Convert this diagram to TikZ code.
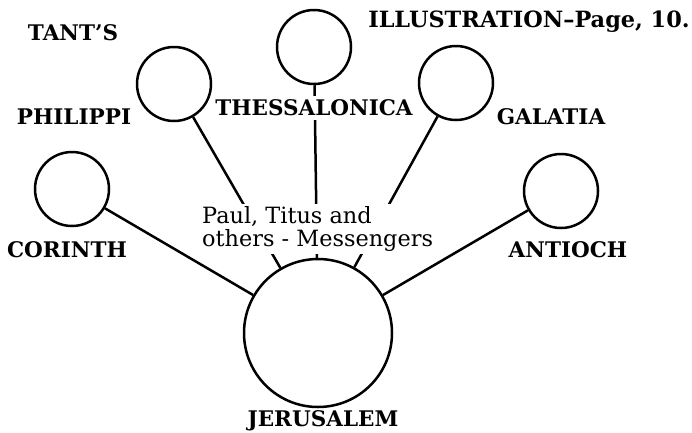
\documentclass[tikz,border=0pt]{standalone}
\usepackage{fontspec}
\setmainfont{DejaVu Serif}
\usetikzlibrary{positioning, backgrounds}

\begin{document}
\begin{tikzpicture}[
			x=1pt, y=-1pt,
			city/.style={circle, draw, line width=2.5pt, minimum size=74pt, inner sep=0pt},
			place/.style={font=\fontsize{21.5}{23}\selectfont\bfseries, inner sep=1pt},
			link/.style={line width=2.5pt},
			note/.style={font=\fontsize{22.4}{23.5}\selectfont, align=left, fill=white, inner sep=2pt}
		]
		\useasboundingbox (0,0) rectangle (692,432);
		% Churches round the centre
		\node[city] (corinth) at (72,189) {};
		\node[city] (philippi) at (174,84) {};
		\node[city] (thessalonica) at (314,47) {};
		\node[city] (galatia) at (456,83) {};
		\node[city] (antioch) at (561,191) {};
		\node[city, minimum size=148pt] (jerusalem) at (318,333) {};
		
		% Spokes to Jerusalem
		\draw[link] (corinth) -- (jerusalem);
		\draw[link] (philippi) -- (jerusalem);
		\draw[link] (thessalonica) -- (jerusalem);
		\draw[link] (galatia) -- (jerusalem);
		\draw[link] (antioch) -- (jerusalem);
		
		% Labels
		\node[place] (tants) at (73,33) {TANT'S};
		\node[place, font=\fontsize{22.4}{23}\selectfont\bfseries] (illustration) at (529,22) {ILLUSTRATION--Page, 10.};
		\node[place] (philippi-label) at (74,117) {PHILIPPI};
		\node[place, fill=white, inner sep=4pt] (thessalonica-label) at (314,108) {THESSALONICA};
		\node[place] (galatia-label) at (551,117) {GALATIA};
		\node[place] (corinth-label) at (67,250) {CORINTH};
		\node[place] (antioch-label) at (568,250) {ANTIOCH};
		\node[place] (jerusalem-label) at (323,421) {JERUSALEM};
		\node[note, anchor=north west] (messengers) at (200,204) {Paul, Titus and\\others - Messengers};
\end{tikzpicture}
\end{document}
